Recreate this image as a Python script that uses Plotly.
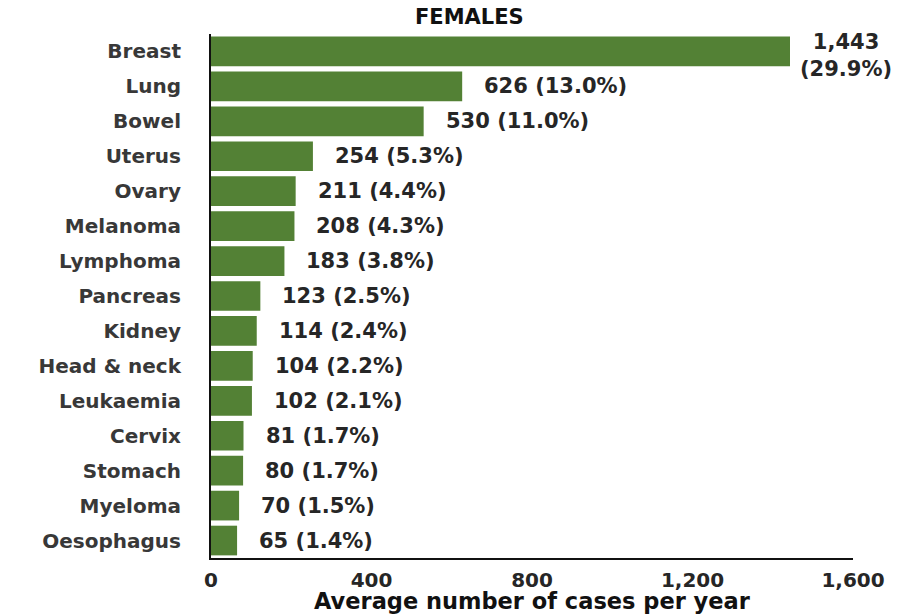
import plotly.graph_objects as go

categories = ["Breast", "Lung", "Bowel", "Uterus", "Ovary", "Melanoma", "Lymphoma",
              "Pancreas", "Kidney", "Head & neck", "Leukaemia", "Cervix", "Stomach",
              "Myeloma", "Oesophagus"]
cases = [1443, 626, 530, 254, 211, 208, 183, 123, 114, 104, 102, 81, 80, 70, 65]
percents = [29.9, 13.0, 11.0, 5.3, 4.4, 4.3, 3.8, 2.5, 2.4, 2.2, 2.1, 1.7, 1.7, 1.5, 1.4]
x_ticks = [0, 400, 800, 1200, 1600]

GREEN = "#538135"
TEXT = "#262626"

fig = go.Figure()
fig.add_trace(go.Bar(
    y=categories, x=cases, orientation="h",
    marker=dict(color=GREEN, line=dict(width=0)),
    hoverinfo="skip",
))

annotations = []
for i, (c, v, p) in enumerate(zip(categories, cases, percents)):
    if i == 0:
        annotations.append(dict(
            x=v, y=c, xref="x", yref="y", xanchor="left", yanchor="middle",
            xshift=8, yshift=-4, align="center", showarrow=False,
            text=f"{v:,}<br>({p:.1f}%)",
            font=dict(family="DejaVu Sans", size=21, color=TEXT, weight="bold"),
        ))
    else:
        annotations.append(dict(
            x=v, y=c, xref="x", yref="y", xanchor="left", yanchor="middle",
            xshift=20, showarrow=False,
            text=f"{v:,} ({p:.1f}%)",
            font=dict(family="DejaVu Sans", size=21, color=TEXT, weight="bold"),
        ))

# chart title
annotations.append(dict(
    x=0.403, y=1, xref="paper", yref="paper", xanchor="center", yanchor="bottom",
    yshift=3, showarrow=False, text="FEMALES",
    font=dict(family="DejaVu Sans", size=21, color="#111111", weight="bold"),
))
# x-axis title
annotations.append(dict(
    x=0.5, y=0, xref="paper", yref="paper", xanchor="center", yanchor="middle",
    yshift=-43, showarrow=False, text="Average number of cases per year",
    font=dict(family="DejaVu Sans", size=22.5, color="#111111", weight="bold"),
))

fig.update_layout(
    width=912, height=615,
    margin=dict(l=211, r=59, t=34, b=57),
    paper_bgcolor="white", plot_bgcolor="white",
    bargap=0.15,
    showlegend=False,
    annotations=annotations,
    xaxis=dict(
        range=[0, 1600], tickvals=x_ticks, tickformat=",",
        showgrid=False, zeroline=False, automargin=False,
        showline=True, linecolor="#111111", linewidth=2,
        ticks="outside", ticklen=3, tickcolor="rgba(0,0,0,0)",
        tickfont=dict(family="DejaVu Sans", size=20, color=TEXT, weight="bold"),
    ),
    yaxis=dict(
        range=[len(categories) - 0.5, -0.5], showgrid=False, zeroline=False,
        automargin=False,
        showline=True, linecolor="#111111", linewidth=2,
        ticks="outside", ticklen=24, tickcolor="rgba(0,0,0,0)",
        tickfont=dict(family="DejaVu Sans", size=20, color="#383838", weight="bold"),
    ),
)

fig.write_html("out.html",
               config={"displayModeBar": False},
               post_script="document.body.style.margin='0';document.body.style.overflow='hidden';")
